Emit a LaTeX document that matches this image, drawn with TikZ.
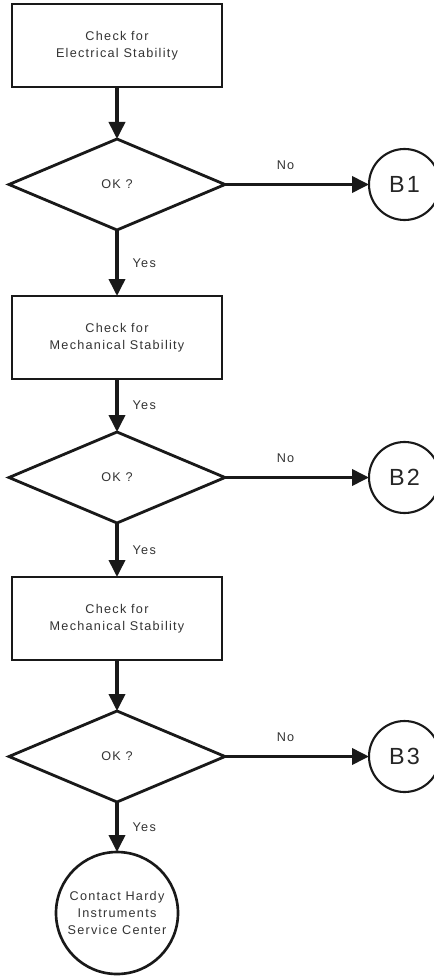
\documentclass[tikz,border=0pt]{standalone}
\usepackage{fontspec}
\newfontfamily\chartfont[LetterSpace=10]{Liberation Sans}
\usetikzlibrary{positioning, arrows.meta, shapes.geometric}

\begin{document}
\begin{tikzpicture}[
  node distance=1.04cm and 2.88cm,
  align=center,
  font=\chartfont\fontsize{7.2}{9.6}\selectfont,
  % Node styles
  taskbox/.style={draw=black!90, rectangle, minimum width=4.2cm, minimum height=1.66cm, line width=1.5pt, outer sep=0pt, text=black!80},
  okdiamond/.style={draw=black!90, diamond, aspect=2.37, minimum width=4.32cm, minimum height=1.82cm, inner sep=0pt, outer sep=0pt, line width=1.6pt, text=black!80},
  jumpcirc/.style={draw=black!90, circle, minimum size=1.42cm, inner sep=0pt, outer sep=0pt, line width=1.2pt, text=black!85, font=\chartfont\fontsize{13.3}{16}\selectfont},
  endcirc/.style={draw=black!90, circle, minimum size=2.44cm, inner sep=0pt, outer sep=0pt, line width=1.5pt, text=black!80},
  lbl/.style={text=black!80},
  % Arrow style
  line/.style={draw=black!90, -{Triangle[length=0.34cm, width=0.32cm]}, line width=2.1pt}
]
  \useasboundingbox (0,0) rectangle (8.66,-19.52);

  % ==========================================
  % MAIN COLUMN
  % ==========================================
  \node[taskbox] (elec) at (2.34,-0.91) {Check for\\Electrical Stability};
  \node[okdiamond, below=of elec] (ok1) {OK ?};
  \node[taskbox, below=1.32cm of ok1] (mech1) {Check for\\Mechanical Stability};
  \node[okdiamond, below=1.06cm of mech1] (ok2) {OK ?};
  \node[taskbox, below=1.08cm of ok2] (mech2) {Check for\\Mechanical Stability};
  \node[okdiamond, below=1.02cm of mech2] (ok3) {OK ?};
  \node[endcirc, below=1.0cm of ok3] (service) {Contact Hardy\\Instruments\\Service Center};

  % ==========================================
  % CONNECTORS ON THE RIGHT
  % ==========================================
  \node[jumpcirc, right=of ok1] (b1) {B1};
  \node[jumpcirc, right=of ok2] (b2) {B2};
  \node[jumpcirc, right=of ok3] (b3) {B3};

  % --- Arrows down ---
  \draw[line] (elec) -- (ok1);
  \draw[line] (ok1) -- node[lbl, right=0.16cm] {Yes} (mech1);
  \draw[line] (mech1) -- node[lbl, right=0.16cm] {Yes} (ok2);
  \draw[line] (ok2) -- node[lbl, right=0.16cm] {Yes} (mech2);
  \draw[line] (mech2) -- (ok3);
  \draw[line] (ok3) -- node[lbl, right=0.16cm] {Yes} (service);

  % --- Arrows right ---
  \draw[line] (ok1) -- node[lbl, above=0.15cm, pos=0.42] {No} (b1);
  \draw[line] (ok2) -- node[lbl, above=0.15cm, pos=0.42] {No} (b2);
  \draw[line] (ok3) -- node[lbl, above=0.15cm, pos=0.42] {No} (b3);

\end{tikzpicture}
\end{document}
